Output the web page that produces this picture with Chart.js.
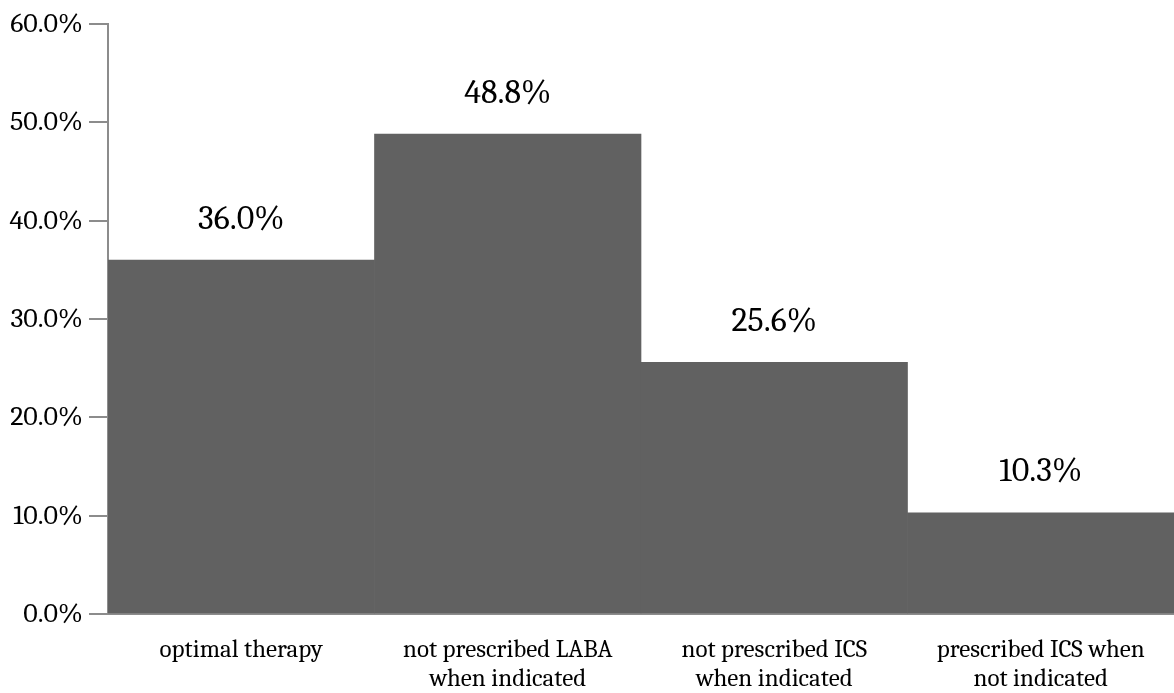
<!DOCTYPE html>
<html>
<head>
<meta charset="utf-8">
<script src="https://cdn.jsdelivr.net/npm/chart.js@4"></script>
<style>
  html, body { margin: 0; padding: 0; background: #fff; }
  #wrap { width: 1174px; height: 693px; }
</style>
</head>
<body>
<div id="wrap"><canvas id="c"></canvas></div>
<script>
const categories = [
  "optimal therapy",
  ["not prescribed LABA", "when indicated"],
  ["not prescribed ICS", "when indicated"],
  ["prescribed ICS when", "not indicated"]
];
const shares = [36.0, 48.8, 25.6, 10.3];
const yTicks = [0, 10, 20, 30, 40, 50, 60];

const serif = "Cambria, 'Liberation Serif', 'DejaVu Serif', serif";

// value labels drawn above each bar
const barLabels = {
  id: "barLabels",
  afterDatasetsDraw(chart) {
    const ctx = chart.ctx;
    const meta = chart.getDatasetMeta(0);
    ctx.save();
    ctx.font = "34px " + serif;
    ctx.fillStyle = "#000";
    ctx.textAlign = "center";
    ctx.textBaseline = "middle";
    meta.data.forEach((bar, i) => {
      ctx.fillText(shares[i].toFixed(1) + "%", bar.x, bar.y - 41);
    });
    ctx.restore();
  }
};

new Chart(document.getElementById("c"), {
  type: "bar",
  data: {
    labels: categories,
    datasets: [{
      data: shares,
      backgroundColor: "#616161",
      borderWidth: 0,
      categoryPercentage: 1,
      barPercentage: 1
    }]
  },
  options: {
    responsive: true,
    maintainAspectRatio: false,
    animation: false,
    layout: { padding: { top: 24, right: 0, left: 0, bottom: 0 } },
    plugins: {
      legend: { display: false },
      tooltip: { enabled: false }
    },
    scales: {
      x: {
        grid: { display: false, drawTicks: false },
        border: { color: "#8c8c8c", width: 2 },
        ticks: {
          color: "#000",
          padding: 22,
          maxRotation: 0,
          font: { family: serif, size: 25, lineHeight: 1.15 }
        },
        afterFit(axis) { axis.height = 79; }
      },
      y: {
        min: 0,
        max: 60,
        afterBuildTicks(axis) { axis.ticks = yTicks.map(v => ({ value: v })); },
        grid: { drawOnChartArea: false, tickLength: 19, color: "#8c8c8c", lineWidth: 2 },
        border: { color: "#8c8c8c", width: 2 },
        ticks: {
          color: "#000",
          padding: 6,
          font: { family: serif, size: 28 },
          callback: v => v.toFixed(1) + "%"
        },
        afterFit(axis) { axis.width = 108; }
      }
    }
  },
  plugins: [barLabels]
});
</script>
</body>
</html>
